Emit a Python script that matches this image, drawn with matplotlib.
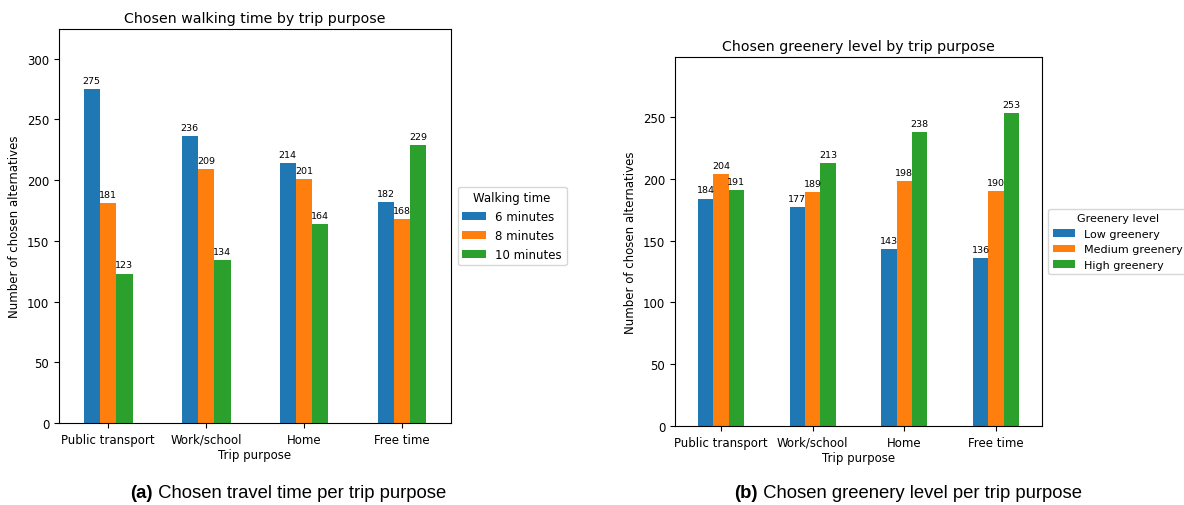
import matplotlib
matplotlib.use("Agg")
import matplotlib.pyplot as plt
import numpy as np

purposes = ["Public transport", "Work/school", "Home", "Free time"]

walk_labels = ["6 minutes", "8 minutes", "10 minutes"]
walk_6 = [275, 236, 214, 182]
walk_8 = [181, 209, 201, 168]
walk_10 = [123, 134, 164, 229]

green_labels = ["Low greenery", "Medium greenery", "High greenery"]
green_low = [184, 177, 143, 136]
green_med = [204, 189, 198, 190]
green_high = [191, 213, 238, 253]

colors = ["#1f77b4", "#ff7f0e", "#2ca02c"]

W, H = 1184, 506
fig = plt.figure(figsize=(W / 100, H / 100), dpi=100)

FS = 8.45


def px_axes(left, top, right, bottom):
    return fig.add_axes([left / W, 1 - bottom / H, (right - left) / W, (bottom - top) / H])


def grouped_bars(ax, series, names, title, legend_title, legend_fs=FS):
    x = np.arange(len(purposes))
    width = 0.5 / len(series)
    for i, (vals, name) in enumerate(zip(series, names)):
        offs = (i - (len(series) - 1) / 2) * width
        bars = ax.bar(x + offs, vals, width, color=colors[i], label=name)
        ax.bar_label(bars, padding=3, fontsize=6.8)
    ax.set_xticks(x)
    ax.set_xticklabels(purposes, fontsize=FS)
    ax.set_xlim(-0.5, len(purposes) - 0.5)
    top = max(max(v) for v in series)
    ax.set_ylim(0, top * 1.18)
    ax.tick_params(axis="y", labelsize=FS, length=3.5)
    ax.tick_params(axis="x", length=3.5)
    ax.set_xlabel("Trip purpose", fontsize=FS, labelpad=2)
    ax.set_ylabel("Number of chosen alternatives", fontsize=FS)
    ax.set_title(title, fontsize=10.2, pad=5)
    ax.legend(title=legend_title, loc="center left", bbox_to_anchor=(1.002, 0.5),
              fontsize=legend_fs, title_fontsize=legend_fs)


ax1 = px_axes(59, 30, 451, 424)
grouped_bars(ax1, [walk_6, walk_8, walk_10], walk_labels,
             "Chosen walking time by trip purpose", "Walking time")

ax2 = px_axes(675, 58, 1042, 427)
grouped_bars(ax2, [green_low, green_med, green_high], green_labels,
             "Chosen greenery level by trip purpose", "Greenery level", legend_fs=8.0)

# subfigure captions: bold tag followed by regular text, centred as a pair
fig.canvas.draw()
renderer = fig.canvas.get_renderer()


def caption(cx, tag, text):
    y = 12 / H
    t1 = fig.text(0, y, tag, fontsize=13.3, fontweight="bold", family="Liberation Sans", va="center")
    t2 = fig.text(0, y, " " + text, fontsize=13.3, family="Liberation Sans", va="center")
    w1 = t1.get_window_extent(renderer).width
    w2 = t2.get_window_extent(renderer).width
    left = cx - (w1 + w2) / 2
    t1.set_x(left / W)
    t2.set_x((left + w1) / W)


caption(288, "(a)", "Chosen travel time per trip purpose")
caption(908, "(b)", "Chosen greenery level per trip purpose")

fig.savefig("out.png", dpi=100)
